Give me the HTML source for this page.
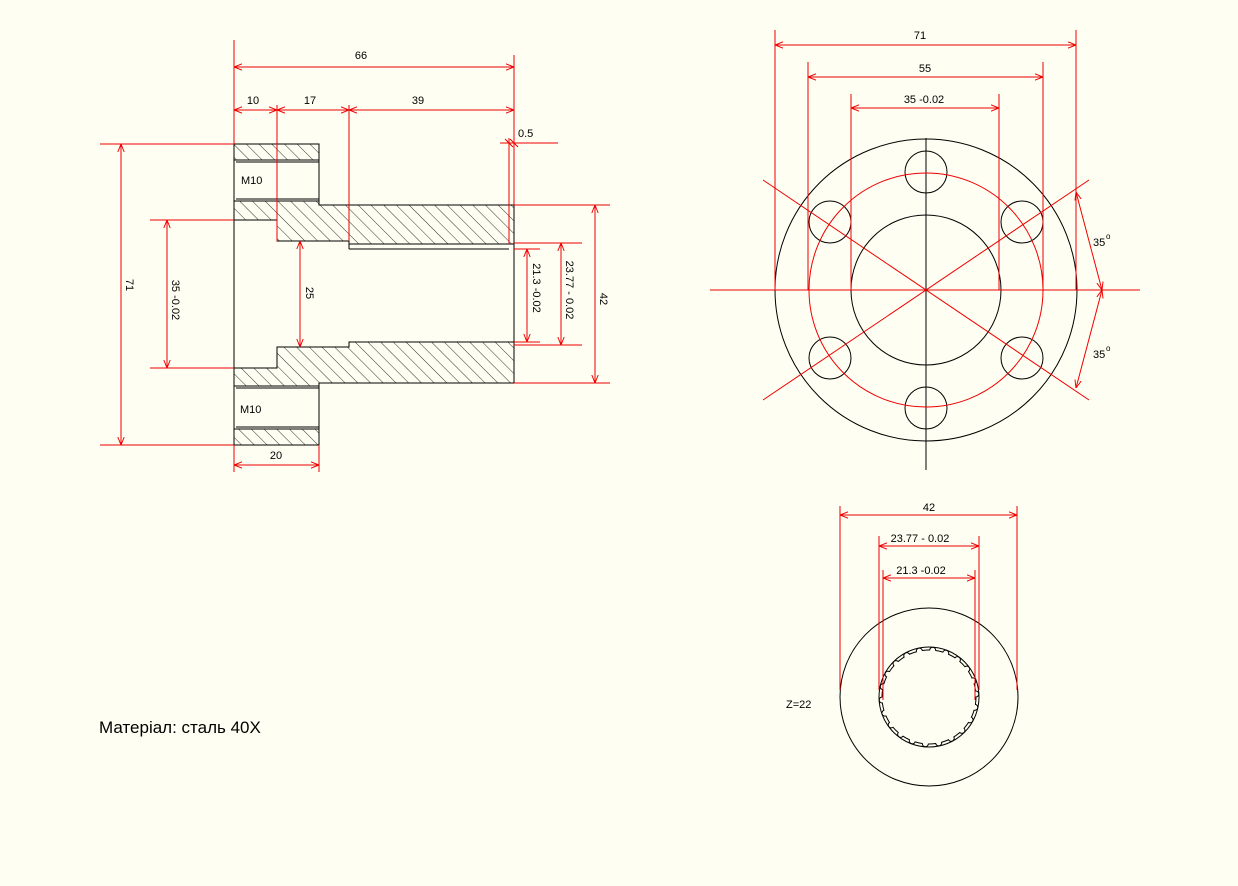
<!DOCTYPE html>
<html><head><meta charset="utf-8"><style>
html,body{margin:0;padding:0;background:#fffef2;}
svg{display:block;font-family:"Liberation Sans",sans-serif;}
.k{stroke:#000;stroke-width:1;fill:none}
.r{stroke:#e00;stroke-width:1;fill:none}
.t{font-size:11px;fill:#000}
</style></head><body>
<svg id="s" width="1238" height="886" viewBox="0 0 1238 886" xmlns="http://www.w3.org/2000/svg">
<defs>
<pattern id="h" patternUnits="userSpaceOnUse" width="9" height="9" patternTransform="rotate(-45)">
<line x1="0" y1="0" x2="0" y2="9" stroke="#000" stroke-width="0.8"/>
</pattern>
<marker id="a" viewBox="0 0 10 10" refX="10" refY="5" markerWidth="8" markerHeight="8" orient="auto-start-reverse"><path d="M0,1 L10,5 L0,9" fill="none" stroke="#e00" stroke-width="1.2"/></marker>
</defs>
<rect width="1238" height="886" fill="#fffef2"/>

<g fill="url(#h)" stroke="#000">
<polygon points="234,144 319,144 319,160 234,160"/>
<polygon points="234,201 319,201 319,205 514,205 514,244 349,244 349,241 277,241 277,220 234,220"/>
<polygon points="234,368 277,368 277,347 349,347 349,342 514,342 514,383 319,383 319,386 234,386"/>
<polygon points="234,429 319,429 319,445 234,445"/>
</g>
<g class="k">
<line x1="234" y1="144" x2="234" y2="445"/>
<line x1="319" y1="144" x2="319" y2="205"/>
<line x1="319" y1="383" x2="319" y2="445"/>
<line x1="236" y1="162" x2="319" y2="162"/>
<line x1="236" y1="199" x2="319" y2="199"/>
<line x1="236" y1="388" x2="319" y2="388"/>
<line x1="236" y1="427" x2="319" y2="427"/>
<line x1="349" y1="249" x2="509" y2="249"/>
<line x1="349" y1="244" x2="349" y2="249"/>
<line x1="514" y1="244" x2="514" y2="342"/>
</g>
<text x="241" y="184" class="t">M10</text>
<text x="240" y="413" class="t">M10</text>

<g class="r">
<line x1="234" y1="40" x2="234" y2="144"/>
<line x1="514" y1="55" x2="514" y2="205"/>
<line x1="277" y1="105" x2="277" y2="241"/>
<line x1="349" y1="105" x2="349" y2="241"/>
<line x1="509" y1="138" x2="509" y2="244"/>
<line x1="234" y1="67" x2="514" y2="67" marker-start="url(#a)" marker-end="url(#a)"/>
<line x1="234" y1="110" x2="277" y2="110" marker-start="url(#a)" marker-end="url(#a)"/>
<line x1="277" y1="110" x2="349" y2="110" marker-start="url(#a)" marker-end="url(#a)"/>
<line x1="349" y1="110" x2="514" y2="110" marker-start="url(#a)" marker-end="url(#a)"/>
<line x1="500" y1="143" x2="558" y2="143"/>
<line x1="505" y1="139" x2="513" y2="147"/><line x1="510" y1="139" x2="518" y2="147"/>
<line x1="100" y1="144" x2="234" y2="144"/>
<line x1="100" y1="445" x2="234" y2="445"/>
<line x1="121" y1="144" x2="121" y2="445" marker-start="url(#a)" marker-end="url(#a)"/>
<line x1="150" y1="220" x2="234" y2="220"/>
<line x1="150" y1="368" x2="234" y2="368"/>
<line x1="167" y1="220" x2="167" y2="368" marker-start="url(#a)" marker-end="url(#a)"/>
<line x1="300" y1="241" x2="300" y2="347" marker-start="url(#a)" marker-end="url(#a)"/>
<line x1="514" y1="205" x2="610" y2="205"/>
<line x1="514" y1="383" x2="610" y2="383"/>
<line x1="595" y1="205" x2="595" y2="383" marker-start="url(#a)" marker-end="url(#a)"/>
<line x1="514" y1="243" x2="582" y2="243"/>
<line x1="514" y1="345" x2="582" y2="345"/>
<line x1="561" y1="243" x2="561" y2="345" marker-start="url(#a)" marker-end="url(#a)"/>
<line x1="514" y1="249" x2="540" y2="249"/>
<line x1="514" y1="342" x2="540" y2="342"/>
<line x1="527" y1="249" x2="527" y2="342" marker-start="url(#a)" marker-end="url(#a)"/>
<line x1="234" y1="445" x2="234" y2="472"/>
<line x1="319" y1="445" x2="319" y2="472"/>
<line x1="234" y1="465" x2="319" y2="465" marker-start="url(#a)" marker-end="url(#a)"/>
</g>
<text x="361" y="59" class="t" text-anchor="middle">66</text>
<text x="253" y="104" class="t" text-anchor="middle">10</text>
<text x="310" y="104" class="t" text-anchor="middle">17</text>
<text x="418" y="104" class="t" text-anchor="middle">39</text>
<text x="518" y="137" class="t">0.5</text>
<text x="276" y="459" class="t" text-anchor="middle">20</text>
<text class="t" text-anchor="middle" transform="translate(126,285) rotate(90)">71</text>
<text class="t" text-anchor="middle" transform="translate(172,300) rotate(90)">35 -0.02</text>
<text class="t" text-anchor="middle" transform="translate(306,293) rotate(90)">25</text>
<text class="t" text-anchor="middle" transform="translate(533,288) rotate(90)">21.3   -0.02</text>
<text class="t" text-anchor="middle" transform="translate(566,290) rotate(90)">23.77  - 0.02</text>
<text class="t" text-anchor="middle" transform="translate(600,299) rotate(90)">42</text>

<g class="k">
<circle cx="926" cy="290" r="151"/>
<circle cx="926" cy="290" r="75"/>
<circle cx="926" cy="172" r="21"/>
<circle cx="926" cy="408" r="21"/>
<circle cx="1022" cy="222" r="21"/>
<circle cx="1022" cy="358" r="21"/>
<circle cx="830" cy="222" r="21"/>
<circle cx="830" cy="358" r="21"/>
<line x1="926" y1="138" x2="926" y2="470"/>
</g>
<g class="r">
<circle cx="926" cy="290" r="117"/>
<line x1="710" y1="290" x2="1140" y2="290"/>
<line x1="763" y1="180" x2="1089" y2="400"/>
<line x1="763" y1="400" x2="1089" y2="180"/>
<line x1="775" y1="30" x2="775" y2="290"/>
<line x1="1076" y1="30" x2="1076" y2="290"/>
<line x1="808" y1="62" x2="808" y2="290"/>
<line x1="1043" y1="62" x2="1043" y2="290"/>
<line x1="851" y1="94" x2="851" y2="290"/>
<line x1="999" y1="94" x2="999" y2="290"/>
<line x1="775" y1="45" x2="1076" y2="45" marker-start="url(#a)" marker-end="url(#a)"/>
<line x1="808" y1="77" x2="1043" y2="77" marker-start="url(#a)" marker-end="url(#a)"/>
<line x1="851" y1="108" x2="999" y2="108" marker-start="url(#a)" marker-end="url(#a)"/>
<line x1="1076" y1="192" x2="1102" y2="290" marker-start="url(#a)" marker-end="url(#a)"/>
<line x1="1102" y1="290" x2="1076" y2="388" marker-start="url(#a)" marker-end="url(#a)"/>
</g>
<text x="920" y="39" class="t" text-anchor="middle">71</text>
<text x="925" y="72" class="t" text-anchor="middle">55</text>
<text x="924" y="103" class="t" text-anchor="middle">35  -0.02</text>
<text x="1093" y="246" class="t">35</text><text x="1106" y="239" style="font-size:8px">o</text>
<text x="1093" y="358" class="t">35</text><text x="1106" y="351" style="font-size:8px">o</text>

<g class="k">
<circle cx="929" cy="697" r="89"/>
<g id="sp"></g>
</g>
<g class="r">
<line x1="840" y1="506" x2="840" y2="690"/>
<line x1="1017" y1="506" x2="1017" y2="690"/>
<line x1="879" y1="536" x2="879" y2="690"/>
<line x1="979" y1="536" x2="979" y2="690"/>
<line x1="883" y1="570" x2="883" y2="700"/>
<line x1="975" y1="570" x2="975" y2="700"/>
<line x1="840" y1="515" x2="1017" y2="515" marker-start="url(#a)" marker-end="url(#a)"/>
<line x1="879" y1="546" x2="979" y2="546" marker-start="url(#a)" marker-end="url(#a)"/>
<line x1="883" y1="578" x2="975" y2="578" marker-start="url(#a)" marker-end="url(#a)"/>
</g>
<text x="929" y="511" class="t" text-anchor="middle">42</text>
<text x="920" y="542" class="t" text-anchor="middle">23.77   - 0.02</text>
<text x="921" y="574" class="t" text-anchor="middle">21.3    -0.02</text>
<text x="786" y="708" class="t">Z=22</text>

<text x="99" y="733" style="font-size:17px;fill:#000">Матеріал: сталь 40Х</text>
</svg>
<script>
(function(){var g=document.getElementById('sp'),cx=929,cy=697,R=47,d='';
var n=22;for(var i=0;i<n;i++){var a0=2*Math.PI*i/n,a1=a0+2*Math.PI/n*0.55,a2=a0+2*Math.PI/n;
function p(r,a){return (cx+r*Math.cos(a)).toFixed(2)+','+(cy+r*Math.sin(a)).toFixed(2);}
d+=(i==0?'M':'L')+p(R,a0)+' A'+R+','+R+' 0 0 1 '+p(R,a1)+' A3,3 0 0 1 '+p(R,a2)+' ';}
d+='Z';var e=document.createElementNS('http://www.w3.org/2000/svg','path');e.setAttribute('d',d);g.appendChild(e);
var c=document.createElementNS('http://www.w3.org/2000/svg','circle');c.setAttribute('cx',cx);c.setAttribute('cy',cy);c.setAttribute('r',50);g.appendChild(c);})();
</script>
</body></html>
